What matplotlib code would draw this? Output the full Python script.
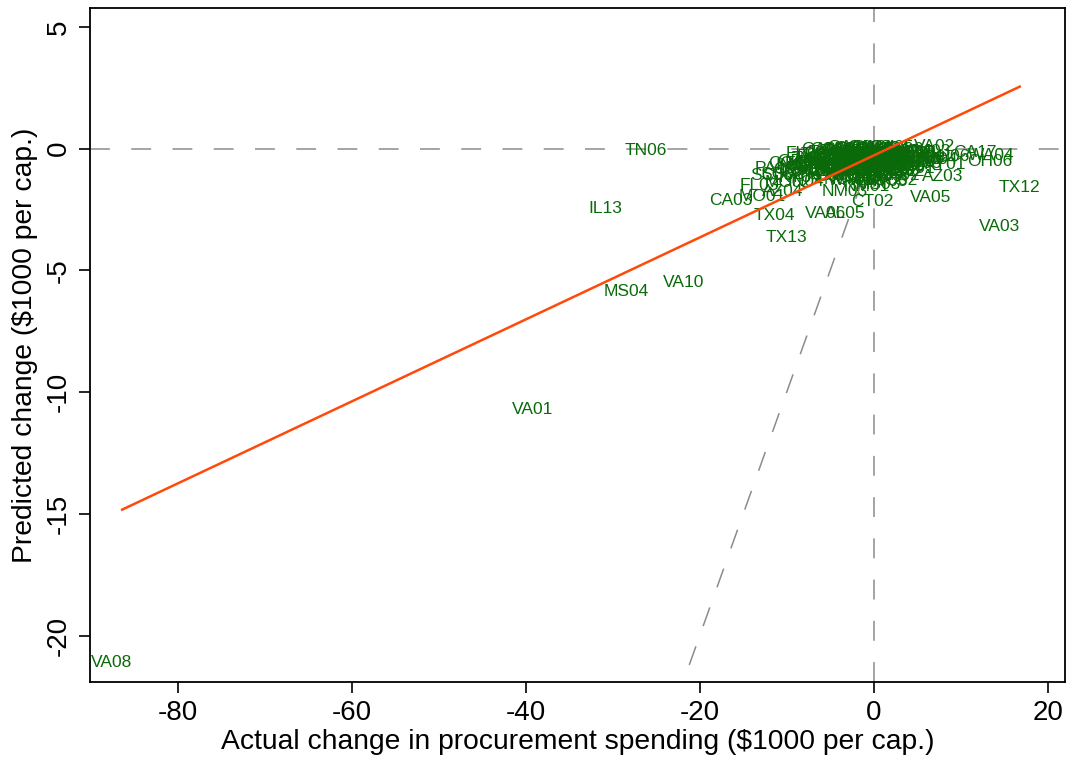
import matplotlib
matplotlib.use('Agg')
import matplotlib.pyplot as plt

plt.rcParams.update({
    'font.family': ['Liberation Sans', 'DejaVu Sans'],
    'font.size': 20,
    'axes.unicode_minus': False,
})

# outlying districts
out_names = ['VA08', 'VA01', 'MS04', 'VA10', 'IL13', 'TN06', 'CA03', 'MO01', 'TX04', 'TX13',
             'VA06', 'AL05', 'CT02', 'VA05', 'AZ03', 'TX12', 'VA03', 'FL03', 'AZ04', 'SC05',
             'PA15', 'NM03', 'CA17', 'VA02', 'WA04', 'OH06', 'PA07', 'KY01', 'CO02', 'OR04',
             'NM01', 'MS03', 'NV03', 'SC02', 'MO02', 'OR05', 'CO05', 'KY04', 'IN04']
out_x = [-87.6, -39.2, -28.5, -21.8, -30.9, -26.2, -16.4, -12.8, -11.4, -10.0,
         -5.5, -3.3, -0.1, 6.55, 7.9, 16.8, 14.5, -13.1, -10.5, -11.7,
         -11.3, -3.3, 11.6, 7.0, 13.5, 13.3, 5.9, 8.2, 2.4, -8.5,
         -0.8, 0.5, 1.5, -10.5, -9.8, -9.0, -9.5, -8.5, -7.8]
out_y = [-21.1, -10.7, -5.87, -5.50, -2.46, -0.08, -2.13, -1.97, -2.75, -3.65,
         -2.67, -2.67, -2.18, -2.01, -1.15, -1.6, -3.2, -1.52, -1.77, -1.1,
         -0.82, -1.77, -0.16, 0.08, -0.28, -0.53, -0.57, -0.66, -1.3, -0.53,
         -1.55, -1.45, -1.35, -1.05, -1.4, -0.85, -0.6, -1.2, -1.35]

# dense cluster near zero
clu_names = ['CA01', 'CA02', 'CA04', 'CA05', 'CA06', 'CA07', 'CA08', 'CA09', 'CA10', 'CA11',
             'CA12', 'CA13', 'CA14', 'CA15', 'CA16', 'CA18', 'CA19', 'CA20', 'CA21', 'CA22',
             'CA23', 'CA24', 'CA25', 'CA26', 'CA27', 'CA28', 'CA29', 'CA30', 'CA31', 'CA32',
             'CA33', 'CA34', 'CA35', 'CA36', 'NY01', 'NY02', 'NY03', 'NY04', 'NY05', 'NY06',
             'NY07', 'NY08', 'NY09', 'NY10', 'NY11', 'NY12', 'NY13', 'NY14', 'TX01', 'TX02',
             'TX03', 'TX05', 'TX06', 'TX07', 'TX08', 'TX09', 'TX10', 'TX11', 'OH01', 'OH02',
             'OH03', 'OH04', 'OH05', 'OH07', 'OH08', 'OH09', 'OH10', 'OH11', 'OH12', 'PA01',
             'PA02', 'PA03', 'PA04', 'PA05', 'PA06', 'FL01', 'FL02', 'FL04', 'FL05', 'FL06',
             'FL07', 'FL08', 'FL09', 'FL10', 'FL11', 'FL12', 'FL13', 'IL01', 'IL02', 'IL03',
             'IL04', 'IL05', 'MI01', 'MI02', 'MI03', 'MI04', 'MI05', 'GA01', 'GA02', 'GA03',
             'GA04', 'GA05', 'GA06', 'NC01', 'NC02', 'NC03', 'NC04', 'WA01', 'WA02', 'MA01',
             'MA02', 'MD01', 'MD02', 'NJ01', 'NJ02', 'NJ03', 'NJ04', 'NJ05', 'NJ06', 'IN01',
             'IN02', 'IN03', 'WI01', 'WI02']
clu_x = [-6.8, -6.2, -5.9, -5.5, -5.2, -4.9, -4.6, -4.4, -4.1, -3.9,
         -3.7, -3.5, -3.3, -3.1, -2.9, -2.7, -2.5, -2.3, -2.1, -1.9,
         -1.7, -1.5, -1.3, -1.1, -0.9, -0.7, -0.5, -0.3, -0.1, 0.1,
         0.3, 0.5, 0.7, 0.9, 1.1, 1.3, 1.5, 1.7, 1.9, 2.1,
         2.3, 2.5, 2.8, 3.0, 3.3, 3.6, 3.9, 4.2, -7.5, -7.0,
         -6.5, -6.0, -5.6, -5.1, -4.7, -4.2, -3.8, -3.4, -3.0, -2.6,
         -2.2, -1.8, -1.4, -1.0, -0.6, -0.2, 0.2, 0.6, 1.0, 1.4,
         1.8, 2.2, 2.6, 3.0, 3.4, -8.0, -7.8, -6.6, -5.4, -4.0,
         -3.6, -2.4, -1.6, -0.8, 0.0, 0.8, 1.6, 2.4, 3.2, 4.0,
         4.6, 5.0, -2.0, -1.2, -0.4, 0.4, 1.2, -5.8, -4.8, -2.8,
         0.0, 2.0, 4.5, 5.4, -7.2, -6.4, -3.2, -2.6, 2.7, -5.0,
         -4.3, -3.0, -1.0, 5.2, 6.0, 6.6, 7.4, 5.6, 8.8, -8.6,
         -9.2, -6.9, 4.8, 3.6]
clu_y = [-0.70, -0.55, -0.85, -0.45, -0.95, -0.30, -0.65, -1.10, -0.20, -0.50,
         -0.80, -0.05, -0.35, -0.65, -1.00, -0.15, -0.45, -0.75, 0.02, -0.30,
         -0.60, -0.90, -0.10, -0.40, -0.70, -1.20, 0.03, -0.25, -0.55, -0.85,
         -0.05, -0.35, -0.65, -1.05, -0.15, -0.45, -0.75, 0.00, -0.30, -0.60,
         -0.20, -0.50, -0.10, -0.40, -0.70, -0.20, -0.45, -0.10, -0.95, -0.40,
         -1.15, -0.25, -0.70, -0.15, -0.90, -0.60, -0.10, -0.90, -0.30, -0.60,
         -0.95, -0.05, -0.60, -0.20, -0.45, -0.80, -0.20, -0.55, -0.80, -0.25,
         -0.55, -0.90, -0.30, -0.65, -0.05, -0.60, -0.20, -0.30, -1.10, -0.85,
         -0.30, -0.25, -0.35, -0.95, -0.10, -0.30, -1.00, -0.70, -0.95, -0.75,
         -0.35, -0.15, -1.25, -1.15, -1.00, -0.95, -1.15, -0.05, -0.05, 0.04,
         0.05, 0.05, -0.55, -0.45, -0.70, -0.80, -1.25, -1.30, -1.10, -0.55,
         -0.35, -0.05, -0.90, -0.20, -0.35, -0.10, -0.45, -0.60, -0.30, -0.90,
         -0.70, -0.45, -0.80, -0.95]

# fitted line and 45-degree reference
fit_x = [-86.4, 16.8]
fit_y = [-14.82, 2.55]
diag = [-21.2, 0.3]

fig = plt.figure(figsize=(10.71, 7.59), dpi=100)
ax = fig.add_axes([0.084, 0.1014, 0.9104, 0.8881])

gray = '#8c8c8c'
ax.axhline(0, color=gray, lw=1.1, dashes=(13, 14), zorder=1)
ax.axvline(0, color=gray, lw=1.1, dashes=(13, 14), zorder=1)
ax.plot(diag, diag, color=gray, lw=1.1, dashes=(13, 14), zorder=1)

green = '#0a6a0a'
for n, x, y in zip(clu_names + out_names, clu_x + out_x, clu_y + out_y):
    ax.text(x, y, n, ha='center', va='center', fontsize=12.5, color=green, zorder=2)

ax.plot(fit_x, fit_y, color='#ff4a0a', lw=1.8, zorder=3)

ax.set_xlim(-90.1, 22.0)
ax.set_ylim(-21.9, 5.78)
ax.set_xticks([-80, -60, -40, -20, 0, 20])
ax.set_yticks([5, 0, -5, -10, -15, -20])
ax.set_yticklabels(['5', '0', '-5', '-10', '-15', '-20'], rotation=90, va='center')
ax.tick_params(direction='out', length=8, width=1.2, labelsize=20, pad=5)
for s in ax.spines.values():
    s.set_linewidth(1.3)
ax.set_xlabel('Actual change in procurement spending ($1000 per cap.)', fontsize=20.3, labelpad=2)
ax.set_ylabel('Predicted change ($1000 per cap.)', fontsize=20.3, labelpad=6)

fig.savefig('out.png', dpi=100, facecolor='white')
